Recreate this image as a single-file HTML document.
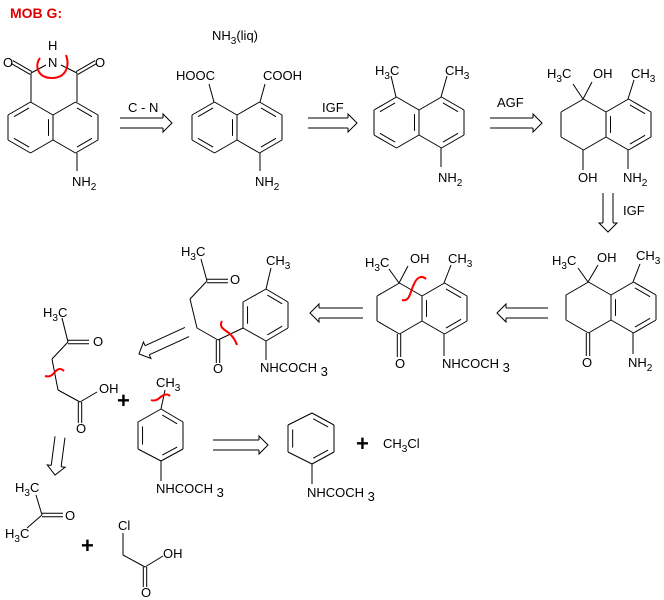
<!DOCTYPE html>
<html><head><meta charset="utf-8"><style>
html,body{margin:0;padding:0;background:#fff;}
svg{display:block;}
text{font-family:"Liberation Sans",sans-serif;font-size:13px;fill:#000;}
.s{font-size:10px;}
.p{font-size:22px;font-weight:bold;}
</style></head><body>
<svg id="g" width="664" height="600" viewBox="0 0 664 600" xmlns="http://www.w3.org/2000/svg">
<g id="b" stroke="#000" stroke-width="1" fill="none"></g>
<g stroke="red" stroke-width="2" fill="none">
<path d="M40,58 C34,66 38,78 52,78 C66,78 70,66 66,55"/>
<path d="M402,300 C410,302 410,292 414,284 C417,277 422,275 426,279"/>
<path d="M222,321 C218,328 226,330 230,334 C234,338 236,342 237,345"/>
<path d="M45,376 C52,378 54,372 57,370 C60,368 62,369 64,371"/>
<path d="M151,400 C156,402 159,398 162,396 C165,394 168,394 170,396"/>
</g>
<text x="10" y="18" style="font-size:14px;font-weight:bold;fill:#e00000">MOB G:</text>
<text x="3" y="67">O</text><text x="95" y="67">O</text>
<text x="48" y="67">N</text><text x="48" y="50">H</text>
<text x="72" y="186">NH<tspan class="s" dy="4">2</tspan></text>
<text x="128" y="112">C - N</text>
<text x="212" y="40">NH<tspan class="s" dy="4">3</tspan><tspan dy="-4">(liq)</tspan></text>
<text x="176" y="80">HOOC</text><text x="263" y="80">COOH</text>
<text x="255" y="186">NH<tspan class="s" dy="4">2</tspan></text>
<text x="322" y="112">IGF</text>
<text x="375" y="75">H<tspan class="s" dy="4">3</tspan><tspan dy="-4">C</tspan></text>
<text x="445" y="75">CH<tspan class="s" dy="4">3</tspan></text>
<text x="438" y="182">NH<tspan class="s" dy="4">2</tspan></text>
<text x="497" y="107">AGF</text>
<text x="547" y="78">H<tspan class="s" dy="4">3</tspan><tspan dy="-4">C</tspan></text>
<text x="593" y="78">OH</text>
<text x="631" y="78">CH<tspan class="s" dy="4">3</tspan></text>
<text x="578" y="182">OH</text>
<text x="623" y="182">NH<tspan class="s" dy="4">2</tspan></text>
<text x="623" y="215">IGF</text>
<text x="552" y="265">H<tspan class="s" dy="4">3</tspan><tspan dy="-4">C</tspan></text>
<text x="597" y="262">OH</text>
<text x="636" y="260">CH<tspan class="s" dy="4">3</tspan></text>
<text x="582" y="367">O</text>
<text x="628" y="367">NH<tspan class="s" dy="4">2</tspan></text>
<text x="365" y="267">H<tspan class="s" dy="4">3</tspan><tspan dy="-4">C</tspan></text>
<text x="410" y="263">OH</text>
<text x="448" y="263">CH<tspan class="s" dy="4">3</tspan></text>
<text x="395" y="368">O</text>
<text x="442" y="368">NHCOCH <tspan dy="4">3</tspan></text>
<text x="181" y="256">H<tspan class="s" dy="4">3</tspan><tspan dy="-4">C</tspan></text>
<text x="230" y="284">O</text>
<text x="266" y="265">CH<tspan class="s" dy="4">3</tspan></text>
<text x="213" y="373">O</text>
<text x="260" y="372">NHCOCH <tspan dy="4">3</tspan></text>
<text x="43" y="317">H<tspan class="s" dy="4">3</tspan><tspan dy="-4">C</tspan></text>
<text x="93" y="346">O</text>
<text x="99" y="393">OH</text>
<text x="76" y="433">O</text>
<text class="p" x="117" y="408">+</text>
<text x="156" y="387">CH<tspan class="s" dy="4">3</tspan></text>
<text x="156" y="493">NHCOCH <tspan dy="4">3</tspan></text>
<text x="307" y="497">NHCOCH <tspan dy="4">3</tspan></text>
<text class="p" x="356" y="451">+</text>
<text x="383" y="448">CH<tspan class="s" dy="4">3</tspan><tspan dy="-4">Cl</tspan></text>
<text x="15" y="492">H<tspan class="s" dy="4">3</tspan><tspan dy="-4">C</tspan></text>
<text x="65" y="520">O</text>
<text x="5" y="538">H<tspan class="s" dy="4">3</tspan><tspan dy="-4">C</tspan></text>
<text class="p" x="81" y="553">+</text>
<text x="118" y="530">Cl</text>
<text x="163" y="558">OH</text>
<text x="141" y="597">O</text>
</svg>
<script>
var G=document.getElementById('b'),NS='http://www.w3.org/2000/svg';
function L(a,b,c,d){var e=document.createElementNS(NS,'line');e.setAttribute('x1',a);e.setAttribute('y1',b);e.setAttribute('x2',c);e.setAttribute('y2',d);G.appendChild(e);}
function D(a,b,c,d){var dx=c-a,dy=d-b,l=Math.hypot(dx,dy),nx=-dy/l*1.7,ny=dx/l*1.7;L(a+nx,b+ny,c+nx,d+ny);L(a-nx,b-ny,c-nx,d-ny);}
function ring(p,dbl){var cx=0,cy=0;p.forEach(function(q){cx+=q[0];cy+=q[1];});cx/=p.length;cy/=p.length;
for(var i=0;i<p.length;i++){var a=p[i],b=p[(i+1)%p.length];L(a[0],a[1],b[0],b[1]);}
dbl.forEach(function(i){var a=p[i],b=p[(i+1)%p.length];var ax=a[0]+(cx-a[0])*0.2,ay=a[1]+(cy-a[1])*0.2,bx=b[0]+(cx-b[0])*0.2,by=b[1]+(cy-b[1])*0.2;
var mx=bx-ax,my=by-ay;L(ax+mx*0.08,ay+my*0.08,bx-mx*0.08,by-my*0.08);});}
function naph(x,y,ld,rd){var l=[[x+22.5,y],[x+45,y+13],[x+45,y+38],[x+22.5,y+51],[x,y+38],[x,y+13]];
var r=[[x+67.5,y],[x+90,y+13],[x+90,y+38],[x+67.5,y+51],[x+45,y+38],[x+45,y+13]];ring(l,ld);ring(r,rd);}
function ar(x1,y1,x2,y2){var dx=x2-x1,dy=y2-y1,l=Math.hypot(dx,dy),ux=dx/l,uy=dy/l,nx=-uy,ny=ux;var bx=x2-ux*9,by=y2-uy*9;
L(x1+nx*5,y1+ny*5,bx+nx*5,by+ny*5);L(x1-nx*5,y1-ny*5,bx-nx*5,by-ny*5);
var pl=document.createElementNS(NS,'polyline');pl.setAttribute('points',[bx+nx*5,by+ny*5,bx+nx*9,by+ny*9,x2,y2,bx-nx*9,by-ny*9,bx-nx*5,by-ny*5].join(' '));G.appendChild(pl);}
naph(8,102,[1,3,5],[0,2]);
L(31,73,31,102);L(77,73,77,102);D(31,73,12,62);D(77,73,96,62);L(31,73,46,65);L(77,73,61,65);L(77,153,77,171);
naph(192,102,[1,3,5],[0,2]);L(214,102,209,84);L(260,102,265,84);L(260,153,260,171);
naph(374,97,[1,3,5],[0,2]);L(396,97,391,76);L(441,97,447,76);L(441,148,441,167);
naph(561,99,[],[0,2,4]);L(583,99,573,84);L(583,99,592,82);L(628,99,634,80);L(583,150,583,170);L(628,150,628,169);
naph(566,282,[],[0,2,4]);L(588,282,578,268);L(588,282,598,265);L(633,282,640,264);D(588,333,588,356);L(633,333,633,354);
naph(377,283,[],[0,2,4]);L(399,283,389,269);L(399,283,408,266);L(444,283,451,265);D(399,334,399,357);L(444,334,444,356);
ring([[266,289],[288,302],[288,328],[266,341],[243,328],[243,302]],[0,2,4]);
L(266,289,271,268);L(266,341,266,360);L(243,328,218,340);D(218,340,218,363);L(218,340,197,328);L(197,328,190,299);L(190,299,207,281);D(207,281,228,281);L(207,281,201,259);
L(62,318,68,342);D(68,342,89,342);L(68,342,52,359);L(52,359,58,390);L(58,390,80,402);L(80,402,97,392);D(80,402,80,423);
ring([[161,409],[183,422],[183,449],[161,461],[138,449],[138,422]],[0,2,4]);L(161,409,165,390);L(161,461,161,481);
ring([[312,413],[334,425],[334,452],[312,464],[288,452],[288,425]],[0,2,4]);L(312,464,312,484);
L(36,495,42,515);D(42,515,63,515);L(42,515,27,528);
L(123,533,123,555);L(123,555,145,567);L(145,567,163,556);D(145,567,145,587);
ar(120,123,172,123);ar(308,123,357,123);ar(490,123,542,123);ar(608,193,608,232);
ar(548,313,497,313);ar(363,313,310,313);ar(187,332,139,354);ar(60,437,55,475);ar(213,445,268,445);
</script>
</body></html>
